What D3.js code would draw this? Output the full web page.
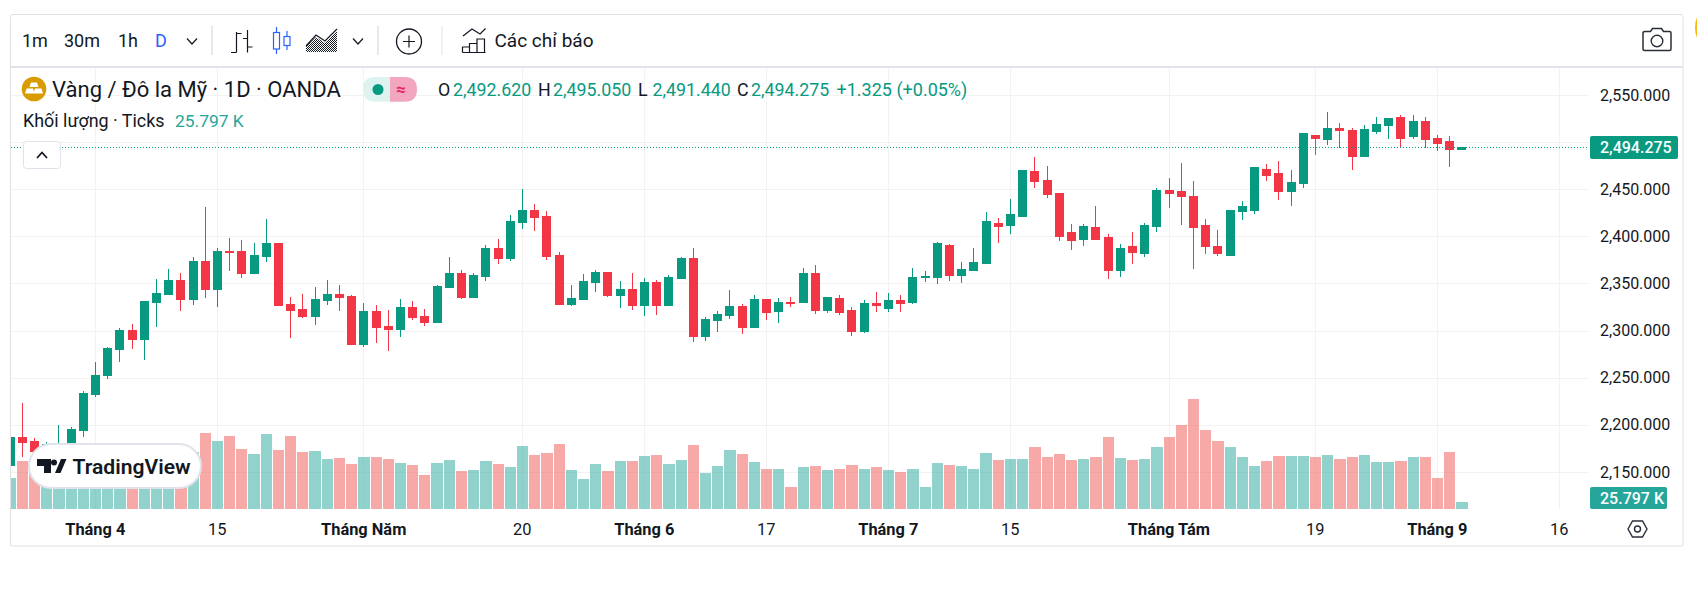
<!DOCTYPE html>
<html lang="vi">
<head>
<meta charset="utf-8">
<title>Vàng / Đô la Mỹ</title>
<script src="https://cdn.jsdelivr.net/npm/d3@7/dist/d3.min.js"></script>
<style>
html,body{margin:0;padding:0;background:#fff;overflow:hidden}
svg{display:block}
text{font-family:Roboto,"Liberation Sans",sans-serif}
</style>
</head>
<body>
<svg id="c" width="1697" height="589"></svg>
<script>
const firstIndex = -7;
const open = [2156.5,2186.2,2182,2162.8,2160,2175,2193.6,2232,2251.8,2280.3,2300.4,2290.8,2330,2338.4,2353.2,2333.1,2373.2,2343.7,2383.8,2383.8,2360.6,2378.5,2392.3,2327.8,2322.5,2315.1,2332,2338.4,2336.3,2285.6,2320.4,2304.6,2301.4,2324.6,2315.1,2308.8,2345.8,2360.6,2335.2,2357.4,2387,2376.4,2414.4,2427.1,2420.8,2379.6,2327.8,2333.1,2351.1,2361.6,2337.3,2343.7,2326.8,2351.1,2326.8,2355.3,2376.4,2294,2310.9,2316.2,2325.7,2303.5,2333.1,2320.4,2329.9,2330.3,2360.9,2320.8,2334.5,2320.8,2298.6,2328.2,2322.9,2332.4,2330.3,2356.7,2356.7,2390.5,2358.8,2364.1,2371.5,2413.7,2411.6,2421.1,2468.7,2459.2,2445.4,2404.2,2396.8,2409.5,2398.9,2364.1,2389.4,2382,2410.6,2448.6,2447.5,2442.3,2411,2389.7,2380.1,2425.9,2427,2470.6,2466.3,2447.2,2455.7,2506.7,2502.5,2514.2,2512.1,2484.4,2511,2517.4,2525.9,2505.7,2521.6,2503.5,2500.4,2492.62];
const high = [2189,2223.4,2186.2,2182,2200,2197.9,2236.1,2266.5,2282.4,2302.5,2306.7,2331,2354.2,2365.8,2360.6,2378.5,2431.3,2388,2398.6,2396.5,2393.3,2418.7,2392.3,2335.2,2338.4,2345.8,2353.2,2347.9,2337.3,2328.9,2326.8,2321.5,2333.1,2331,2322.5,2347.9,2378.5,2364.8,2360.6,2391.2,2397.5,2422.9,2450.4,2434.5,2427.1,2383.8,2347.9,2359.5,2364.8,2361.6,2352.1,2360.6,2355.3,2353.2,2358.5,2378.5,2388,2314.1,2320.4,2342.6,2327.8,2337.3,2333.1,2334.2,2335.2,2366.2,2369.4,2335.6,2337.7,2325,2332.4,2340.8,2339.8,2337.7,2366.2,2363,2393.7,2391.5,2372.5,2387.3,2425.4,2419,2440.1,2469.7,2484.5,2475,2445.4,2412.7,2412.7,2432.7,2402.1,2391.5,2404.2,2413.7,2451.8,2462.3,2478.2,2459.2,2418.4,2406.7,2428,2437.6,2473.8,2477,2480.1,2470.6,2509.9,2507.8,2532.3,2520.6,2515.2,2518.4,2527,2525.9,2529.1,2529.1,2527,2507.8,2506.7,2495.05];
const low = [2152,2166,2166.4,2155,2150,2165,2187.3,2229,2248.6,2266.5,2280.3,2268.7,2303.5,2338.4,2320.4,2326.8,2334.2,2324.6,2363.7,2355.3,2360.6,2373.2,2325.7,2291.9,2313,2305.6,2326.8,2320.4,2285.6,2282.4,2286.6,2278.2,2293,2310.9,2304.6,2307.7,2345.8,2333.1,2335.2,2352.1,2371.1,2374.3,2408,2406,2375.4,2327.8,2325.7,2333.1,2340.5,2335.2,2323.6,2321.5,2315.1,2316.2,2326.8,2354.2,2287.7,2288.7,2298.2,2312,2296.1,2302.5,2310.9,2307.7,2324.6,2329.2,2317.6,2318.7,2316.5,2294.4,2297.5,2319.7,2319.7,2319.7,2328.2,2351.4,2349.3,2352.5,2350.4,2364.1,2371.5,2392.6,2402.1,2421.1,2451.8,2441.2,2394.7,2385.2,2389.4,2396.8,2354.6,2356.7,2370.4,2377.8,2404.2,2430.6,2411.6,2365.1,2381.2,2379.1,2380.1,2417.4,2423.8,2458.9,2438.7,2432.3,2451.4,2486.5,2497.2,2494,2470.6,2484.4,2508.9,2503.5,2494,2503.5,2494,2490.8,2473.8,2491.44];
const close = [2186.2,2180.9,2171.7,2178.8,2180.5,2194.7,2232.9,2252.8,2281.3,2300.4,2290.8,2331,2339.4,2353.2,2333.1,2373.2,2343.7,2383.8,2382.7,2360.6,2379.6,2392.3,2326.8,2321.5,2315.1,2333.1,2338.4,2335.2,2285.6,2320.4,2303.5,2301.4,2324.6,2314.1,2308.8,2346.8,2360.6,2335.2,2358.5,2387,2376.4,2415.5,2427.1,2419.7,2378.5,2327.8,2334.2,2352.1,2361.6,2337.3,2343.7,2326.8,2351.1,2326.8,2356.3,2376.4,2294,2312,2317.3,2325.7,2303.5,2333.1,2319.4,2329.9,2328.9,2360.9,2321.8,2335.6,2319.7,2298.6,2329.2,2327.1,2332.4,2329.2,2356.7,2357.7,2392.6,2358.8,2365.1,2372.5,2415.8,2410.6,2423.2,2469.7,2458.1,2444.4,2400,2395.8,2410.6,2396.8,2364.1,2387.3,2383.1,2411.6,2448.6,2445.4,2442.3,2409.5,2388.7,2382.3,2427,2431.2,2472.7,2464.2,2447.2,2456.7,2508.9,2503.5,2514.2,2512.1,2484.4,2513.1,2518.4,2524.8,2503.5,2521.6,2502.5,2498.2,2491.8,2494.275];
const volume = [114.2,176.8,180.5,168.2,180.5,192.8,186.7,198.9,180.5,174.4,192.8,180.5,168.2,174.4,198.9,211.2,280,250.5,268.9,221,202.6,276.3,217.4,268.9,210,213.7,184.2,187.9,165.8,191.6,191.6,184.2,169.5,162.1,125.3,169.5,180.5,140,143.7,176.8,165.8,154.7,232.1,198.9,206.3,239.5,143.7,110.5,165.8,140,176.8,176.8,195.3,198.9,165.8,180.5,235.8,132.6,158.4,217.4,202.6,173.1,147.4,147.4,81,154.7,158.4,143.7,147.4,162.1,147.4,154.7,143.7,136.3,147.4,81,169.5,162.1,158.4,147.4,206.3,180.5,184.2,184.2,228.4,191.6,202.6,180.5,184.2,191.6,265.2,187.9,180.5,184.2,228.4,265.2,309.5,405.2,291,250.5,228.4,191.6,158.4,176.8,195.3,195.3,195.3,191.6,198.9,184.2,191.6,198.9,173.1,173.1,176.8,191.6,191.6,114.2,210,25.797];
const priceGrid = [2550,2500,2450,2400,2350,2300,2250,2200,2150];
const priceLabels = [2550,2450,2400,2350,2300,2250,2200,2150];
const timeTickIndex = [0,10,22,35,45,55,65,75,88,100,110,120];
const timeTickLabels = ["Tháng 4","15","Tháng Năm","20","Tháng 6","17","Tháng 7","15","Tháng Tám","19","Tháng 9","16"];
const lastPrice = 2494.275;
const lastVolumeLabel = "25.797 K";
const timeframes = ["1m","30m","1h","D"];
const legendItems = [["O","2,492.620"],["H","2,495.050"],["L","2,491.440"],["C","2,494.275"]];

const GREEN="#089981",RED="#F23645",INK="#131722",AXIS="#131722",GRID="#f2f2f2",EDGE="#e0e3eb";
const svg=d3.select("#c");
const L=11,R=1589,T=67,B=509;
const x=d3.scaleLinear().domain([0,120]).range([95.5,1559.5]);
const y=d3.scaleLinear().domain([2550,2150]).range([95,471.9]);
const v=d3.scaleLinear().domain([0,405.2]).range([B,399]);
const idx=d3.range(open.length);
const pos=i=>x(i+firstIndex);

svg.append("defs").append("clipPath").attr("id","pane").append("rect").attr("x",L).attr("y",T).attr("width",R-L).attr("height",B-T);
const dots=svg.select("defs").append("pattern").attr("id","dots").attr("width",2).attr("height",2).attr("patternUnits","userSpaceOnUse");
dots.append("rect").attr("width",1).attr("height",1).attr("fill",INK);
dots.append("rect").attr("x",1).attr("y",1).attr("width",1).attr("height",1).attr("fill",INK);

// frame
svg.append("rect").attr("x",10.5).attr("y",14.5).attr("width",1672.5).attr("height",531.5).attr("rx",2).attr("fill","#fff").attr("stroke","#dfdfdf");
svg.append("circle").attr("cx",1723).attr("cy",27.5).attr("r",28).attr("fill","#f9b812");
svg.append("rect").attr("x",11).attr("y",66).attr("width",1672).attr("height",2).attr("fill",EDGE);

// grid
const g=svg.append("g");
g.selectAll(".gv").data(timeTickIndex).join("rect").attr("x",d=>Math.floor(x(d))).attr("y",T+1).attr("width",1).attr("height",B-T-1).attr("fill",GRID);
g.selectAll(".gh").data(priceGrid).join("rect").attr("x",L).attr("y",d=>Math.round(y(d))).attr("width",R-L).attr("height",1).attr("fill",GRID);

const plot=svg.append("g").attr("clip-path","url(#pane)");
// volume
plot.selectAll(".vol").data(idx).join("rect").attr("class","vol")
 .attr("x",i=>Math.round(pos(i)-5.6))
 .attr("width",i=>Math.round(pos(i+1)-5.6)-1-Math.round(pos(i)-5.6))
 .attr("y",i=>Math.round(v(volume[i])))
 .attr("height",i=>B-Math.round(v(volume[i])))
 .attr("fill",i=>close[i]>=open[i]?"#26A69A":"#EF5350").attr("fill-opacity",.5);
// candles
const cg=plot.selectAll(".cd").data(idx).join("g").attr("class","cd");
cg.append("rect").attr("x",i=>Math.floor(pos(i))).attr("width",1)
 .attr("y",i=>Math.round(y(high[i]))).attr("height",i=>Math.max(1,Math.round(y(low[i]))-Math.round(y(high[i]))))
 .attr("fill",i=>close[i]>=open[i]?GREEN:RED);
cg.append("rect").attr("x",i=>Math.floor(pos(i))-4).attr("width",9)
 .attr("y",i=>Math.floor(y(Math.max(open[i],close[i]))))
 .attr("height",i=>Math.max(1,Math.ceil(y(Math.min(open[i],close[i])))-Math.floor(y(Math.max(open[i],close[i])))))
 .attr("fill",i=>close[i]>=open[i]?GREEN:RED);
// price line
const py=Math.floor(y(lastPrice));
svg.append("line").attr("x1",L).attr("x2",R).attr("y1",py+.5).attr("y2",py+.5).attr("stroke",GREEN).attr("stroke-dasharray","1 2");

// axes
const ya=svg.append("g").attr("transform",`translate(${R+1},0)`).call(d3.axisRight(y).tickValues(priceLabels).tickFormat(d3.format(",.3f")).tickSize(0).tickPadding(10));
ya.select(".domain").remove();
ya.selectAll("text").attr("font-size",16).attr("fill",AXIS).attr("font-family","Roboto");
const xa=svg.append("g").attr("transform",`translate(-0.7,${B})`).call(d3.axisBottom(x).tickValues(timeTickIndex).tickFormat((d,i)=>timeTickLabels[i]).tickSize(0).tickPadding(14));
xa.select(".domain").remove();
xa.selectAll("text").attr("font-size",16.4).attr("fill",AXIS).attr("font-family","Roboto")
 .attr("font-weight",(d,i)=>/Tháng/.test(timeTickLabels[i])?700:400);

// last labels
svg.append("rect").attr("x",1590).attr("y",136).attr("width",88).attr("height",23).attr("rx",2).attr("fill",GREEN);
svg.append("text").attr("x",1600).attr("y",153).attr("font-size",16).attr("font-weight",500).attr("fill","#fff").text(d3.format(",.3f")(lastPrice));
svg.append("rect").attr("x",1590).attr("y",487).attr("width",77).attr("height",22).attr("rx",2).attr("fill","#26A69A");
svg.append("text").attr("x",1600).attr("y",504).attr("font-size",16).attr("font-weight",500).attr("fill","#fff").text(lastVolumeLabel);
// settings hexagon
svg.append("path").attr("d","M1628 529 L1632.5 521 H1642.5 L1647 529 L1642.5 537 H1632.5 Z").attr("fill","none").attr("stroke","#2a2e39").attr("stroke-width",1.4);
svg.append("circle").attr("cx",1637.5).attr("cy",529).attr("r",3).attr("fill","none").attr("stroke","#2a2e39").attr("stroke-width",1.4);

// toolbar
const tfX=[22,64,118,155];
svg.selectAll(".tf").data(timeframes).join("text").attr("x",(d,i)=>tfX[i]).attr("y",46.5).attr("font-size",18)
 .attr("fill",d=>d==="D"?"#2962FF":INK).text(d=>d);
const chev=(cx,cy,up)=>`M${cx-5} ${cy+(up?3:-2.5)} L${cx} ${cy+(up?-2.5:3)} L${cx+5} ${cy+(up?3:-2.5)}`;
const stroke=(d,c=INK,w=1.2)=>svg.append("path").attr("d",d).attr("fill","none").attr("stroke",c).attr("stroke-width",w);
stroke(chev(192,41));stroke(chev(358,41));
[[212,1.6],[378,1.6],[442,1]].forEach(([sx,w])=>svg.append("rect").attr("x",sx-w/2).attr("y",26).attr("width",w).attr("height",29).attr("fill",EDGE));
// bars icon
stroke("M236.5 32V52.5M231 52.5H236.5M236.5 33.5H241.5M247.5 30V52.5M243 38.5H247.5M247.5 47H252.5");
// candles icon
svg.append("rect").attr("x",273.5).attr("y",32.5).attr("width",6).attr("height",16.5).attr("fill","none").attr("stroke","#2962FF").attr("stroke-width",1.2);
svg.append("rect").attr("x",284).attr("y",36.5).attr("width",6).attr("height",9).attr("fill","none").attr("stroke","#2962FF").attr("stroke-width",1.2);
stroke("M276.5 27V32.5M276.5 49V54M287 31V36.5M287 45.5V50","#2962FF");
// area icon
svg.append("path").attr("d","M306 52V46.5L316 37L325 43L337 31V52Z").attr("fill","url(#dots)");
stroke("M306 46L316 35L325 41L337 29");
// plus
svg.append("circle").attr("cx",409).attr("cy",41.5).attr("r",12.5).attr("fill","none").attr("stroke",INK).attr("stroke-width",1.3);
stroke("M403 41.5H415M409 35.5V47.5");
// indicators
stroke("M463 36L472 29L480 34L485.5 28.5");
stroke("M462.5 52.5H485.5M462.5 52.5V47H469.5V52.5M469.5 52.5V43.5H477V52.5M477 52.5V39H484.5V52.5");
svg.append("text").attr("x",494.5).attr("y",46.5).attr("font-size",19).attr("fill",INK).text("Các chỉ báo");
// camera
stroke("M1645 31.5H1650.5L1652.5 28.5H1661.5L1663.5 31.5H1669.5Q1671 31.5 1671 33V49Q1671 50.5 1669.5 50.5H1644.5Q1643 50.5 1643 49V33Q1643 31.5 1645 31.5Z","#2a2e39",1.5);
svg.append("circle").attr("cx",1657).attr("cy",41).attr("r",5.8).attr("fill","none").attr("stroke","#2a2e39").attr("stroke-width",1.4);

// legend
svg.append("circle").attr("cx",34).attr("cy",89).attr("r",12.3).attr("fill","#d89b00");
svg.append("path").attr("d","M31 82.5H37L38.5 87H29.5ZM26.5 88.5H33L34.5 93.5H25ZM35 88.5H41.5L43 93.5H33.5Z").attr("fill","#fff");
svg.append("text").attr("x",52).attr("y",97).attr("font-size",22).attr("fill",INK).text("Vàng / Đô la Mỹ · 1D · OANDA");
svg.append("path").attr("d","M390 77H375Q363 77 363 89.3Q363 101.7 375 101.7H390Z").attr("fill","#def3f0");
svg.append("path").attr("d","M390 77H405Q417 77 417 89.3Q417 101.7 405 101.7H390Z").attr("fill","#f2a6c0");
svg.append("circle").attr("cx",378).attr("cy",89.5).attr("r",5.5).attr("fill",GREEN);
svg.append("text").attr("x",401).attr("y",95).attr("text-anchor","middle").attr("font-size",17).attr("font-weight",700).attr("fill","#e91e63").text("≈");
const lx=[438,538,638,737],vx=[453,553,652.5,751];
legendItems.forEach(([k,val],i)=>{
 svg.append("text").attr("x",lx[i]).attr("y",95.5).attr("font-size",17.8).attr("fill",INK).text(k);
 svg.append("text").attr("x",vx[i]).attr("y",95.5).attr("font-size",17.8).attr("fill",GREEN).text(val);
});
svg.append("text").attr("x",836.5).attr("y",95.5).attr("font-size",18).attr("fill",GREEN).text("+1.325 (+0.05%)");
svg.append("text").attr("x",23).attr("y",127).attr("font-size",17.9).attr("fill",INK).text("Khối lượng · Ticks");
svg.append("text").attr("x",175).attr("y",127).attr("font-size",17.4).attr("fill","#26A69A").text(lastVolumeLabel);
svg.append("rect").attr("x",23.5).attr("y",141.5).attr("width",37).attr("height",27).attr("rx",3).attr("fill","#fff").attr("stroke",EDGE);
stroke(chev(42,155,true),INK,1.8);

// TradingView badge
svg.append("rect").attr("x",29).attr("y",444).attr("width",172).attr("height",44).attr("rx",22).attr("fill","#fff").attr("stroke",EDGE).attr("stroke-width",2);
svg.append("path").attr("d","M37 459H51V473H44V466H37ZM55 473L61 459H66.5L60.5 473Z").attr("fill",INK);
svg.append("circle").attr("cx",54).attr("cy",462.5).attr("r",3).attr("fill",INK);
svg.append("text").attr("x",72.5).attr("y",474).attr("font-size",21.1).attr("font-weight",600).attr("fill",INK).attr("font-family","Inter").text("TradingView");
</script>
</body>
</html>
